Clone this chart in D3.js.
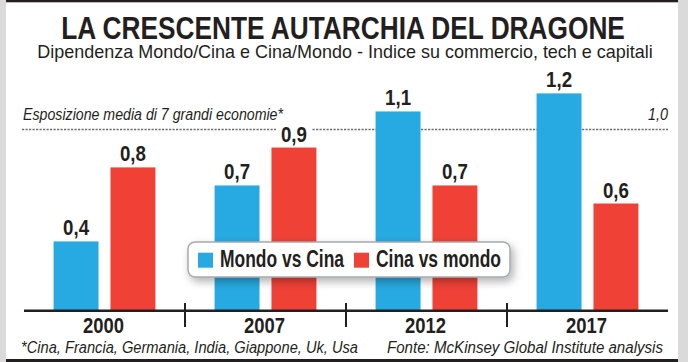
<!DOCTYPE html>
<html>
<head>
<meta charset="utf-8">
<script src="https://cdn.jsdelivr.net/npm/d3@7"></script>
<style>
  html, body { margin: 0; padding: 0; background: #dadadb; }
  svg { display: block; }
  text { fill: #231f20; font-family: "Liberation Sans Narrow", "Arial Narrow", "Liberation Sans", Arial, sans-serif; }
</style>
</head>
<body>
<svg width="688" height="362"></svg>
<script>
// data
const years = ["2000", "2007", "2012", "2017"]
const seriesNames = ["Mondo vs Cina", "Cina vs mondo"]
const mondoVsCina = [0.38, 0.69, 1.10, 1.20]
const cinaVsMondo = [0.79, 0.90, 0.69, 0.59]
const mediaGrandiEconomie = 1.0
const seriesColors = ["#27a9e1", "#ef4136"]

const svg = d3.select('svg')
const width = +svg.attr('width')
const height = +svg.attr('height')
const fmt = v => d3.format('.1f')(v).replace('.', ',')

const rows = years.map((y, i) => ({ year: y, values: [mondoVsCina[i], cinaVsMondo[i]] }))

// squeeze a text horizontally to a given width (fake condensed face)
function condensed(parent, str, cx, by, w, size, weight) {
    const g = parent.append('g')
    const t = g.append('text').text(str)
        .attr('text-anchor', 'middle')
        .attr('font-size', size).attr('font-weight', weight || 'normal')
    const k = w / t.node().getComputedTextLength()
    g.attr('transform', `translate(${cx},${by}) scale(${k},1)`)
    return t
}

// white panel with black rules top and bottom
svg.append('rect').attr('x', 6).attr('y', 0).attr('width', 672).attr('height', height).attr('fill', '#fff')
svg.append('rect').attr('x', 6).attr('y', 0).attr('width', 672).attr('height', 2.3).attr('fill', '#231f20')
svg.append('rect').attr('x', 6).attr('y', 359).attr('width', 672).attr('height', 3).attr('fill', '#231f20')

const defs = svg.append('defs')
defs.append('filter').attr('id', 'shadow')
    .attr('x', '-10%').attr('y', '-40%').attr('width', '130%').attr('height', '200%')
  .append('feDropShadow')
    .attr('dx', 3).attr('dy', 4).attr('stdDeviation', 4)
    .attr('flood-color', '#000').attr('flood-opacity', 0.3)

// titles
condensed(svg, 'LA CRESCENTE AUTARCHIA DEL DRAGONE', 343, 39, 564, 32, 'bold')
condensed(svg, 'Dipendenza Mondo/Cina e Cina/Mondo - Indice su commercio, tech e capitali', 345, 57.5, 616, 18)

// scales
const x = d3.scaleBand().domain(years).range([24, 668])
const xSub = d3.scaleBand().domain(seriesNames).range([0, x.bandwidth()])
    .paddingInner(0.21).paddingOuter(0.52)
const y = d3.scaleLinear().domain([0, 1]).range([310, 129.5])

// reference line
svg.append('line')
    .attr('x1', 22).attr('x2', 668)
    .attr('y1', y(mediaGrandiEconomie)).attr('y2', y(mediaGrandiEconomie))
    .attr('stroke', '#6d6e71').attr('stroke-width', 1.6)
    .attr('stroke-dasharray', '2.2,1.3')
svg.append('text').text('Esposizione media di 7 grandi economie*')
    .attr('x', 23).attr('y', 119.5).attr('font-size', 16).attr('font-style', 'italic')
    .attr('textLength', 260).attr('lengthAdjust', 'spacingAndGlyphs')
svg.append('text').text(fmt(mediaGrandiEconomie))
    .attr('x', 668).attr('y', 119.5).attr('text-anchor', 'end')
    .attr('font-size', 17).attr('font-style', 'italic')
    .attr('textLength', 20).attr('lengthAdjust', 'spacingAndGlyphs')

// bars
const groups = svg.selectAll('g.year')
    .data(rows)
    .enter().append('g')
    .attr('class', 'year')
    .attr('transform', d => `translate(${x(d.year)},0)`)

groups.selectAll('rect.bar')
    .data(d => d.values.map((v, i) => ({ name: seriesNames[i], value: v, i })))
    .enter().append('rect')
    .attr('class', 'bar')
    .attr('x', d => xSub(d.name))
    .attr('y', d => y(d.value))
    .attr('width', xSub.bandwidth())
    .attr('height', d => y(0) - y(d.value))
    .attr('fill', d => seriesColors[d.i])

// value labels with white knockout
const labels = groups.selectAll('g.lab')
    .data(d => d.values.map((v, i) => ({ name: seriesNames[i], value: v })))
    .enter().append('g').attr('class', 'lab')
labels.each(function(d) {
    const g = d3.select(this)
    const cx = xSub(d.name) + xSub.bandwidth() / 2
    const by = y(d.value) - 6
    g.append('rect').attr('fill', '#fff')
        .attr('x', cx - 18).attr('y', by - 16).attr('width', 36).attr('height', 18)
    g.append('text').text(fmt(d.value))
        .attr('x', cx).attr('y', by).attr('text-anchor', 'middle')
        .attr('font-size', 22).attr('font-weight', 'bold')
        .attr('textLength', 26).attr('lengthAdjust', 'spacingAndGlyphs')
})

// axis
svg.append('line')
    .attr('x1', 24).attr('x2', 668).attr('y1', 310.8).attr('y2', 310.8)
    .attr('stroke', '#231f20').attr('stroke-width', 2.5)
svg.selectAll('line.tick')
    .data(years.slice(1))
    .enter().append('line')
    .attr('class', 'tick')
    .attr('x1', d => x(d)).attr('x2', d => x(d))
    .attr('y1', 303).attr('y2', 327)
    .attr('stroke', '#231f20').attr('stroke-width', 2)
svg.selectAll('text.yearlab')
    .data(years)
    .enter().append('text')
    .attr('class', 'yearlab')
    .text(d => d)
    .attr('x', d => x(d) + x.bandwidth() / 2 - 1)
    .attr('y', 333)
    .attr('text-anchor', 'middle')
    .attr('font-size', 22).attr('font-weight', 'bold')
    .attr('textLength', 41).attr('lengthAdjust', 'spacingAndGlyphs')

// legend
const legend = svg.append('g')
legend.append('rect')
    .attr('x', 188).attr('y', 242).attr('width', 322).attr('height', 35)
    .attr('rx', 7).attr('fill', '#fff')
    .attr('stroke', '#a7a9ac').attr('stroke-width', 1.5)
    .attr('filter', 'url(#shadow)')
const legX = [198, 354]
const legLen = [124, 125]
seriesNames.forEach((name, i) => {
    legend.append('rect')
        .attr('x', legX[i]).attr('y', 252.7).attr('width', 15).attr('height', 15)
        .attr('fill', seriesColors[i])
    legend.append('text').text(name)
        .attr('x', legX[i] + 22).attr('y', 266.5)
        .attr('font-size', 23).attr('font-weight', 'bold')
        .attr('textLength', legLen[i]).attr('lengthAdjust', 'spacingAndGlyphs')
})

// footer
svg.append('text').text('*Cina, Francia, Germania, India, Giappone, Uk, Usa')
    .attr('x', 21).attr('y', 353).attr('font-size', 16).attr('font-style', 'italic')
    .attr('textLength', 337).attr('lengthAdjust', 'spacingAndGlyphs')
svg.append('text').text('Fonte: McKinsey Global Institute analysis')
    .attr('x', 387).attr('y', 353).attr('font-size', 16).attr('font-style', 'italic')
    .attr('textLength', 276).attr('lengthAdjust', 'spacingAndGlyphs')
</script>
</body>
</html>
